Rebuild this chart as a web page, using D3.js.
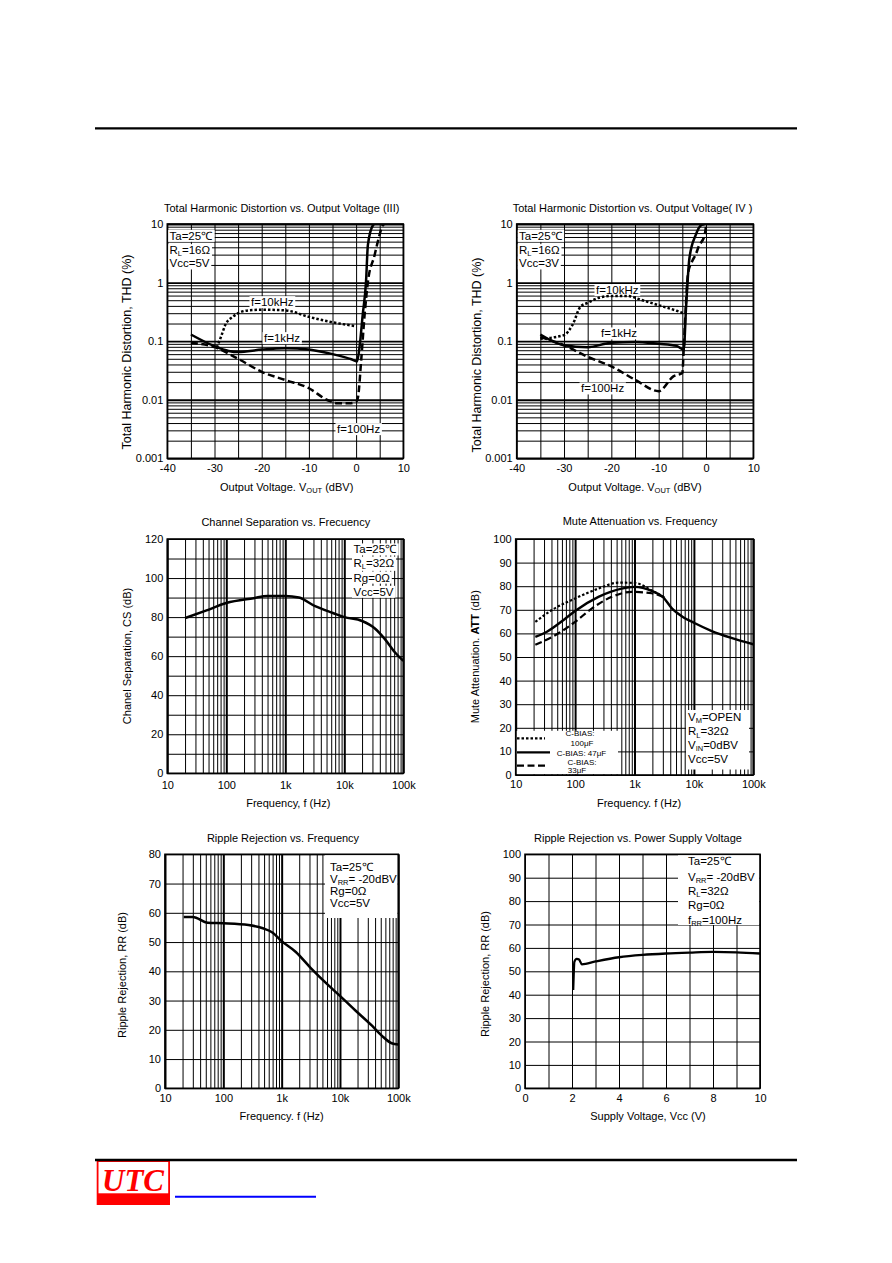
<!DOCTYPE html>
<html>
<head>
<meta charset="utf-8">
<script src="https://cdn.jsdelivr.net/npm/d3@7"></script>
<style>
  body { margin: 0; background: #fff; }
  svg text { font-family: "Liberation Sans", Arial, sans-serif; fill: #000; }
</style>
</head>
<body>
<svg id="page" width="892" height="1263"></svg>
<script>
// ---------- tick labels ----------
const voutTicks = [-40, -30, -20, -10, 0, 10];
const thdTicks = [0.001, 0.01, 0.1, 1, 10];
const thdTickLabels = ["0.001", "0.01", "0.1", "1", "10"];
const freqTicks = [10, 100, 1000, 10000, 100000];
const freqTickLabels = ["10", "100", "1k", "10k", "100k"];
const csTicks = [0, 20, 40, 60, 80, 100, 120];
const attTicks = [0, 10, 20, 30, 40, 50, 60, 70, 80, 90, 100];
const rrfTicks = [0, 10, 20, 30, 40, 50, 60, 70, 80];
const rrvTicks = [0, 10, 20, 30, 40, 50, 60, 70, 80, 90, 100];
const vccTicks = [0, 2, 4, 6, 8, 10];

// ---------- THD vs VOUT (III), Vcc=5V : [dBV, %] ----------
const thd3_10k = [[-29.5,0.078],[-28.6,0.12],[-27.7,0.19],[-26,0.265],[-22.9,0.335],[-20,0.344],[-15,0.335],[-10,0.26],[-5,0.21],[0,0.18]];
const thd3_1k = [[-35,0.13],[-30,0.082],[-27,0.068],[-25,0.065],[-20,0.072],[-15,0.076],[-10,0.072],[-5,0.06],[-1,0.049],[0.2,0.045],[0.7,0.076],[1.4,0.28],[2.1,1.03],[2.5,4.4],[3.6,9.6],[3.8,10]];
const thd3_100 = [[-35,0.094],[-30,0.079],[-25,0.05],[-20,0.03],[-15,0.0217],[-10,0.0157],[-6,0.0098],[-4,0.0087],[-1.5,0.0087],[0,0.0092],[0.4,0.011],[1.1,0.05],[1.8,0.28],[2.5,1.03],[3.9,2.9],[4.6,5],[5.7,9.6],[6,10]];

// ---------- THD vs VOUT (IV), Vcc=3V ----------
const thd4_10k = [[-35,0.11],[-30,0.127],[-28.2,0.19],[-26.5,0.39],[-25,0.45],[-22.7,0.55],[-20,0.59],[-16.5,0.59],[-13.8,0.51],[-10,0.41],[-6.2,0.33],[-4.8,0.3]];
const thd4_1k = [[-35,0.13],[-30,0.085],[-25,0.079],[-20,0.094],[-15,0.097],[-10,0.09],[-6.2,0.083],[-4.7,0.072],[-4.2,0.39],[-3.5,2.6],[-2.2,6.4],[-0.9,9.7],[-0.3,9.9]];
const thd4_100 = [[-35,0.118],[-30,0.085],[-25,0.054],[-20,0.037],[-15,0.022],[-10,0.014],[-6.9,0.025],[-5,0.0286],[-4.7,0.074],[-4.3,0.35],[-3.8,1.4],[-2.9,2.34],[-2.2,2.97],[-1.5,4.2],[-0.3,6.4],[0,9.1]];

// ---------- Channel separation : [Hz, dB] ----------
const csData = [[20,79.5],[45,83.3],[100,87.2],[290,89.7],[500,90.8],[1000,90.8],[1700,90],[3200,85.6],[6400,82.1],[10000,80],[20000,78],[33000,74.2],[48000,69],[72000,62],[100000,57.6]];

// ---------- Mute attenuation : [Hz, dB] ----------
const att100u = [[21.4,64.9],[40,69.8],[100,74.8],[247,79],[537,81.5],[1000,81.4],[1950,78.2],[3300,75]];
const att47u = [[21.4,58.5],[33,60.6],[68,66.2],[100,69.5],[247,75.5],[610,79],[1000,79.7],[1950,78],[3000,75.5],[4300,70.5],[6500,67],[10000,64.5],[20000,61],[44000,58],[100000,55.4]];
const att33u = [[21.4,55.2],[46,59.2],[100,64.9],[190,70.5],[415,75.5],[900,77.6],[1950,77],[3300,75]];

// ---------- Ripple rejection vs frequency : [Hz, dB] ----------
const rrFreq = [[21,58.6],[30,58.6],[54,56.6],[100,56.4],[270,55.8],[476,54.7],[704,53.2],[1000,50.3],[1750,46.6],[3160,41.1],[6500,35],[10000,31.6],[18400,26.6],[35400,21.4],[52000,18],[77000,15.4],[100000,15]];

// ---------- Ripple rejection vs supply : [V, dB] ----------
const rrVcc = [[2.05,42],[2.07,48],[2.1,54],[2.2,55.3],[2.3,55],[2.42,53],[3,54.2],[4,56],[5,57],[6,57.6],[7,58],[8,58.3],[9,58.1],[10,57.6]];

const page = d3.select("#page");
const SUB = true;
const isDecade = v => Math.abs(Math.log10(v) - Math.round(Math.log10(v))) < 1e-6;

function richText(t, parts, subSize) {
  parts.forEach((p, i) => {
    const ts = t.append("tspan").text(p[0]);
    if (p[1]) ts.attr("font-size", subSize).attr("dy", 2.2);
    else if (i > 0 && parts[i - 1][1]) ts.attr("dy", -2.2);
  });
}

function note(textG, boxG, n, size) {
  const t = textG.append("text")
    .attr("x", n.x).attr("y", n.y + size * 0.36)
    .attr("font-size", size)
    .attr("text-anchor", n.anchor || "start");
  richText(t, typeof n.parts === "string" ? [[n.parts]] : n.parts, size * 0.65);
  if (n.box !== false) {
    const b = t.node().getBBox();
    boxG.append("rect")
      .attr("x", b.x - 1.5).attr("y", b.y)
      .attr("width", b.width + 3).attr("height", b.height)
      .attr("fill", "#fff");
  }
}

let clipId = 0;
function drawChart(c) {
  const g = page.append("g");
  const x = c.x.range([c.left, c.right]);
  const y = c.y.range([c.bottom, c.top]);
  const h = c.bottom - c.top, w = c.right - c.left;

  // grid
  const gridX = g.append("g").attr("transform", `translate(0,${c.bottom})`)
    .call(d3.axisBottom(x).tickValues(c.xGrid).tickSize(-h).tickFormat(""));
  gridX.select(".domain").remove();
  gridX.selectAll("line").attr("stroke", "#000")
    .attr("stroke-width", d => (c.xLog && isDecade(d)) ? 2 : 1);
  const gridY = g.append("g").attr("transform", `translate(${c.left},0)`)
    .call(d3.axisLeft(y).tickValues(c.yGrid).tickSize(-w).tickFormat(""));
  gridY.select(".domain").remove();
  gridY.selectAll("line").attr("stroke", "#000")
    .attr("stroke-width", d => (c.yLog && isDecade(d)) ? 1.8 : 1);

  const boxG = g.append("g");
  (c.boxes || []).forEach(b => {
    boxG.append("rect").attr("x", b[0]).attr("y", b[1])
      .attr("width", b[2] - b[0]).attr("height", b[3] - b[1]).attr("fill", "#fff");
  });

  // series
  const id = "clip" + (clipId++);
  g.append("clipPath").attr("id", id).append("rect")
    .attr("x", c.left).attr("y", c.top).attr("width", w).attr("height", h);
  const sG = g.append("g").attr("clip-path", `url(#${id})`);
  const line = d3.line().x(d => x(d[0])).y(d => y(d[1])).curve(d3.curveMonotoneX);
  c.series.forEach(s => {
    sG.append("path").datum(s.data).attr("d", line)
      .attr("fill", "none").attr("stroke", "#000")
      .attr("stroke-width", s.width || 2.5)
      .attr("stroke-dasharray", s.dash || null);
  });

  // frame
  g.append("rect").attr("x", c.left).attr("y", c.top).attr("width", w).attr("height", h)
    .attr("fill", "none").attr("stroke", "#000").attr("stroke-width", 1.6);

  // tick labels
  const ax = g.append("g").attr("transform", `translate(0,${c.bottom})`)
    .call(d3.axisBottom(x).tickValues(c.xTicks).tickSize(0).tickPadding(c.xPad || 7.5)
      .tickFormat((d, i) => c.xTickLabels[i]));
  ax.select(".domain").remove();
  ax.attr("font-size", 11).attr("font-family", null);
  const ay = g.append("g").attr("transform", `translate(${c.left},0)`)
    .call(d3.axisLeft(y).tickValues(c.yTicks).tickSize(0).tickPadding(4)
      .tickFormat((d, i) => c.yTickLabels[i]));
  ay.select(".domain").remove();
  ay.attr("font-size", 11).attr("font-family", null);

  const textG = g.append("g");
  // title
  textG.append("text").attr("x", c.titleX).attr("y", c.titleY + 4)
    .attr("text-anchor", "middle").attr("font-size", 11).text(c.title);
  // x label
  const xl = textG.append("text").attr("x", c.xLabelX).attr("y", c.xLabelY + 4)
    .attr("text-anchor", "middle").attr("font-size", 11);
  richText(xl, c.xLabel, 7.5);
  // y label
  const yl = textG.append("text")
    .attr("transform", `translate(${c.yLabelX},${c.yLabelY}) rotate(-90)`)
    .attr("dy", "0.35em").attr("text-anchor", "middle").attr("font-size", c.yLabelSize || 11);
  c.yLabel.forEach(p => {
    yl.append("tspan").text(p[0]).attr("font-weight", p[1] ? "bold" : null);
  });

  (c.notes || []).forEach(n => note(textG, boxG, n, n.size || c.noteSize || 11.5));
  if (c.extra) c.extra(g, x, y);
}

const logGrid = (a, b) => d3.scaleLog().domain([a, b]).ticks();

// ---- chart 1 : THD (III)
drawChart({
  left: 167.3, right: 403.3, top: 224, bottom: 458.3,
  x: d3.scaleLinear().domain([-40, 10]), y: d3.scaleLog().domain([0.001, 10]), yLog: true,
  xGrid: d3.range(-40, 11, 5), yGrid: logGrid(0.001, 10),
  xTicks: voutTicks, xTickLabels: voutTicks.map(String), yTicks: thdTicks, yTickLabels: thdTickLabels,
  xPad: 6,
  title: "Total Harmonic Distortion vs. Output Voltage (III)", titleX: 281.7, titleY: 207.7,
  xLabel: [["Output Voltage. V"], ["OUT", SUB], [" (dBV)"]], xLabelX: 286.7, xLabelY: 486.5,
  yLabel: [["Total Harmonic Distortion, THD (%)"]], yLabelX: 126.7, yLabelY: 352, yLabelSize: 12.5,
  series: [
    { data: thd3_10k, dash: "2.5,2" },
    { data: thd3_1k },
    { data: thd3_100, dash: "7,3.5" }
  ],
  notes: [
    { x: 169.5, y: 235.7, parts: "Ta=25℃" },
    { x: 169.5, y: 250, parts: [["R"], ["L", SUB], ["=16Ω"]] },
    { x: 169.5, y: 263.3, parts: "Vcc=5V" },
    { x: 251, y: 302, parts: "f=10kHz" },
    { x: 264, y: 338, parts: "f=1kHz" },
    { x: 337, y: 429, parts: "f=100Hz" }
  ]
});

// ---- chart 2 : THD (IV)
drawChart({
  left: 516.7, right: 753.3, top: 224, bottom: 458.3,
  x: d3.scaleLinear().domain([-40, 10]), y: d3.scaleLog().domain([0.001, 10]), yLog: true,
  xGrid: d3.range(-40, 11, 5), yGrid: logGrid(0.001, 10),
  xTicks: voutTicks, xTickLabels: voutTicks.map(String), yTicks: thdTicks, yTickLabels: thdTickLabels,
  xPad: 6,
  title: "Total Harmonic Distortion vs. Output Voltage( IV )", titleX: 632.5, titleY: 207.7,
  xLabel: [["Output Voltage. V"], ["OUT", SUB], [" (dBV)"]], xLabelX: 635, xLabelY: 486.5,
  yLabel: [["Total Harmonic Distortion, THD (%)"]], yLabelX: 476.7, yLabelY: 355, yLabelSize: 12.5,
  series: [
    { data: thd4_10k, dash: "2.5,2" },
    { data: thd4_1k },
    { data: thd4_100, dash: "7,3.5" }
  ],
  notes: [
    { x: 519, y: 235.7, parts: "Ta=25℃" },
    { x: 519, y: 250, parts: [["R"], ["L", SUB], ["=16Ω"]] },
    { x: 519, y: 263.3, parts: "Vcc=3V" },
    { x: 596, y: 290, parts: "f=10kHz" },
    { x: 601, y: 333.3, parts: "f=1kHz" },
    { x: 581, y: 388.3, parts: "f=100Hz" }
  ]
});

// ---- chart 3 : channel separation
drawChart({
  left: 167.3, right: 403.3, top: 539, bottom: 773.3,
  x: d3.scaleLog().domain([10, 100000]), xLog: true, y: d3.scaleLinear().domain([0, 120]),
  xGrid: logGrid(10, 100000), yGrid: d3.range(0, 121, 10),
  xTicks: freqTicks, xTickLabels: freqTickLabels, yTicks: csTicks, yTickLabels: csTicks.map(String),
  title: "Channel Separation vs. Frecuency", titleX: 285.8, titleY: 521.7,
  xLabel: [["Frequency, f (Hz)"]], xLabelX: 288.3, xLabelY: 803.3,
  yLabel: [["Chanel Separation, CS (dB)"]], yLabelX: 126.7, yLabelY: 656,
  series: [{ data: csData }],
  notes: [
    { x: 353.5, y: 549.3, parts: "Ta=25℃" },
    { x: 353.5, y: 562.5, parts: [["R"], ["L", SUB], ["=32Ω"]] },
    { x: 353.5, y: 577.5, parts: "Rg=0Ω" },
    { x: 353.5, y: 591.7, parts: "Vcc=5V" }
  ]
});

// ---- chart 4 : mute attenuation
drawChart({
  left: 515.7, right: 753.3, top: 539, bottom: 775,
  x: d3.scaleLog().domain([10, 100000]), xLog: true, y: d3.scaleLinear().domain([0, 100]),
  xGrid: logGrid(10, 100000), yGrid: d3.range(0, 101, 10),
  xTicks: freqTicks, xTickLabels: freqTickLabels, yTicks: attTicks, yTickLabels: attTicks.map(String),
  xPad: 5,
  title: "Mute Attenuation vs. Frequency", titleX: 640, titleY: 520.5,
  xLabel: [["Frequency. f (Hz)"]], xLabelX: 639, xLabelY: 803.3,
  yLabel: [["Mute Attenuation. "], ["ATT", true], [" (dB)"]], yLabelX: 475, yLabelY: 656.7,
  boxes: [[516.5, 730.8, 618, 774.3], [686, 710, 749, 769.5]],
  series: [
    { data: att100u, dash: "2.5,2", width: 2.2 },
    { data: att47u, width: 2.4 },
    { data: att33u, dash: "7,3.5", width: 2.2 }
  ],
  notes: [
    { x: 688, y: 716.5, parts: [["V"], ["M", SUB], ["=OPEN"]], box: false },
    { x: 688, y: 731.3, parts: [["R"], ["L", SUB], ["=32Ω"]], box: false },
    { x: 688, y: 745, parts: [["V"], ["IN", SUB], ["=0dBV"]], box: false },
    { x: 688, y: 759.3, parts: "Vcc=5V", box: false },
    { x: 580, y: 733.3, parts: "C-BIAS:", box: false, anchor: "middle", size: 8 },
    { x: 582, y: 743.3, parts: "100μF", box: false, anchor: "middle", size: 8 },
    { x: 581.5, y: 753.5, parts: "C-BIAS: 47μF", box: false, anchor: "middle", size: 8 },
    { x: 582, y: 761.7, parts: "C-BIAS:", box: false, anchor: "middle", size: 8 },
    { x: 577, y: 770.5, parts: "33μF", box: false, anchor: "middle", size: 8 }
  ],
  extra: (g) => {
    const leg = [[738.3, "2.5,2", 545], [752.3, null, 550], [765.7, "7,3.5", 547]];
    leg.forEach(l => {
      g.append("line").attr("x1", 517).attr("x2", l[2]).attr("y1", l[0]).attr("y2", l[0])
        .attr("stroke", "#000").attr("stroke-width", 2.2).attr("stroke-dasharray", l[1]);
    });
  }
});

// ---- chart 5 : ripple rejection vs frequency
drawChart({
  left: 165, right: 398.3, top: 854.3, bottom: 1088.3,
  x: d3.scaleLog().domain([10, 100000]), xLog: true, y: d3.scaleLinear().domain([0, 80]),
  xGrid: logGrid(10, 100000), yGrid: d3.range(0, 81, 10),
  xTicks: freqTicks, xTickLabels: freqTickLabels, yTicks: rrfTicks, yTickLabels: rrfTicks.map(String),
  xPad: 5.5,
  title: "Ripple Rejection vs. Frequency", titleX: 283, titleY: 838.3,
  xLabel: [["Frequency. f (Hz)"]], xLabelX: 281.7, xLabelY: 1115.5,
  yLabel: [["Ripple Rejection, RR (dB)"]], yLabelX: 121.7, yLabelY: 975,
  boxes: [[325, 855, 397.5, 918]],
  series: [{ data: rrFreq }],
  notes: [
    { x: 330, y: 866.7, parts: "Ta=25℃", box: false },
    { x: 330, y: 878.8, parts: [["V"], ["RR", SUB], ["= -20dBV"]], box: false },
    { x: 330, y: 891, parts: "Rg=0Ω", box: false },
    { x: 330, y: 903.3, parts: "Vcc=5V", box: false }
  ]
});

// ---- chart 6 : ripple rejection vs supply voltage
drawChart({
  left: 525, right: 760, top: 854.3, bottom: 1088.3,
  x: d3.scaleLinear().domain([0, 10]), y: d3.scaleLinear().domain([0, 100]),
  xGrid: d3.range(0, 11, 1), yGrid: d3.range(0, 101, 10),
  xTicks: vccTicks, xTickLabels: vccTicks.map(String), yTicks: rrvTicks, yTickLabels: rrvTicks.map(String),
  xPad: 5.5,
  title: "Ripple Rejection vs. Power Supply Voltage", titleX: 638, titleY: 838.3,
  xLabel: [["Supply Voltage, Vcc  (V)"]], xLabelX: 648, xLabelY: 1115.5,
  yLabel: [["Ripple Rejection, RR (dB)"]], yLabelX: 485, yLabelY: 974,
  boxes: [[678, 855, 759.3, 925]],
  series: [{ data: rrVcc, width: 2.3 }],
  notes: [
    { x: 688, y: 860.5, parts: "Ta=25℃", box: false },
    { x: 688, y: 877, parts: [["V"], ["RR", SUB], ["= -20dBV"]], box: false },
    { x: 688, y: 890.5, parts: [["R"], ["L", SUB], ["=32Ω"]], box: false },
    { x: 688, y: 905, parts: "Rg=0Ω", box: false },
    { x: 688, y: 919.5, parts: [["f"], ["RR", SUB], ["=100Hz"]], box: false }
  ]
});

// ---- page header / footer
page.append("line").attr("x1", 95).attr("x2", 797).attr("y1", 128.3).attr("y2", 128.3)
  .attr("stroke", "#000").attr("stroke-width", 2.2);

const logo = page.append("g");
logo.append("rect").attr("x", 96.7).attr("y", 1160).attr("width", 73.3).attr("height", 45).attr("fill", "#ff0000");
logo.append("rect").attr("x", 98.5).attr("y", 1162).attr("width", 69.7).attr("height", 31.3).attr("fill", "#fff");
logo.append("text").attr("x", 133).attr("y", 1190.5).attr("text-anchor", "middle")
  .attr("font-size", 31).attr("font-weight", "bold").attr("font-style", "italic")
  .attr("textLength", 62).attr("lengthAdjust", "spacingAndGlyphs")
  .style("font-family", '"Liberation Serif", "Times New Roman", serif').style("fill", "#ff0000")
  .text("UTC");

page.append("line").attr("x1", 95).attr("x2", 797).attr("y1", 1160).attr("y2", 1160)
  .attr("stroke", "#000").attr("stroke-width", 2.7);
page.append("line").attr("x1", 175).attr("x2", 316).attr("y1", 1196.7).attr("y2", 1196.7)
  .attr("stroke", "#0000ff").attr("stroke-width", 2);
</script>
</body>
</html>
